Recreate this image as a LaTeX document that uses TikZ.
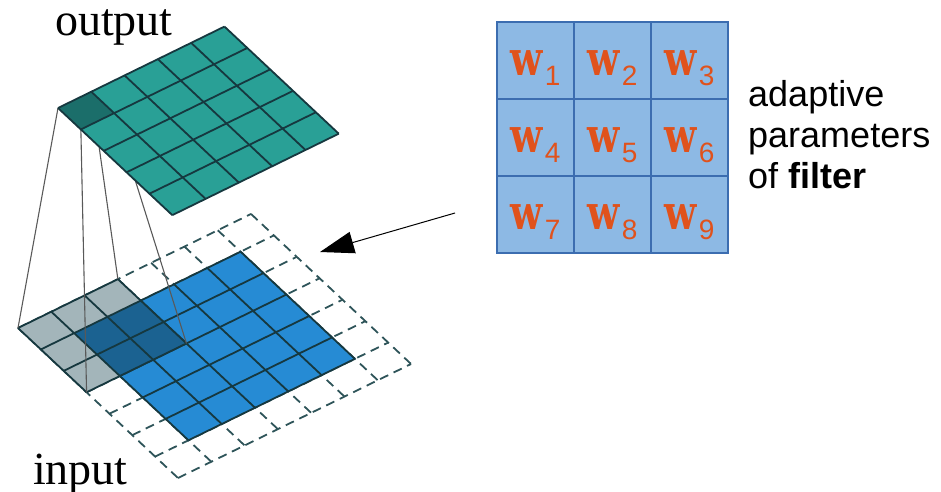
\documentclass[tikz,border=0pt]{standalone}
\usepackage{fontspec}
\setmainfont{Liberation Serif}
\newfontfamily\labelsans{Liberation Sans}
\newfontfamily\wserif{DejaVu Serif}
\usetikzlibrary{arrows.meta}

\definecolor{outteal}{HTML}{29A096}
\definecolor{outdark}{HTML}{1B6E6A}
\definecolor{inblue}{HTML}{268BD4}
\definecolor{inoverlap}{HTML}{1B6291}
\definecolor{kergray}{HTML}{A3B5BA}
\definecolor{gridline}{HTML}{16383F}
\definecolor{padcolor}{HTML}{2E5459}
\definecolor{filterfill}{HTML}{8DB9E4}
\definecolor{filterline}{HTML}{3C6DB0}
\definecolor{wred}{HTML}{E0521C}

% weight label: bold slab w with a sans subscript
\newcommand\wlabel[1]{\scalebox{0.78}[1]{\wserif\bfseries\fontsize{48}{48}\selectfont w}\hspace{2pt}\raisebox{-10pt}{\labelsans\fontsize{28}{28}\selectfont #1}}

\begin{document}
\begin{tikzpicture}[x=1pt,y=-1pt,
  gridstroke/.style={draw=gridline,line width=1.8pt,line join=round},
  padline/.style={draw=padcolor,line width=1.8pt,dash pattern=on 9pt off 6pt},
  linkline/.style={draw=black!65,line width=1.1pt},
  cellfill/.style={draw=filterline,line width=1.2pt,fill=filterfill},
  wnode/.style={text=wred,anchor=base,inner sep=0pt},
  bigtext/.style={font=\labelsans\fontsize{36}{41}\selectfont,align=left,anchor=north west,inner sep=0pt},
  planelabel/.style={font=\fontsize{46}{46}\selectfont,anchor=base west,inner sep=0pt}]
\useasboundingbox (0,0) rectangle (941,491);

% corners of the dark output cell (needed before drawing the links)
\begin{scope}[shift={(58,108)},x={(33.29pt,16.29pt)},y={(22.86pt,-21.43pt)}]
  \coordinate (oL) at (0,0);
  \coordinate (oT) at (1,0);
  \coordinate (oR) at (1,1);
  \coordinate (oB) at (0,1);
\end{scope}

% input plane: padded 7x7 grid, 5x5 input, 3x3 kernel
\begin{scope}[shift={(18,328)},x={(33.29pt,16.29pt)},y={(22.86pt,-21.43pt)}]
  \foreach \k in {0,...,7}{
    \draw[padline] (\k,0) -- (\k,7);
    \draw[padline] (0,\k) -- (7,\k);
  }
  \fill[inblue] (1,1) -- (6,1) -- (6,6) -- (1,6) -- cycle;
  \foreach \k in {1,...,6}{
    \draw[gridstroke] (\k,1) -- (\k,6);
    \draw[gridstroke] (1,\k) -- (6,\k);
  }
  \fill[kergray] (0,0) -- (3,0) -- (3,3) -- (0,3) -- cycle;
  \fill[inoverlap] (1,1) -- (3,1) -- (3,3) -- (1,3) -- cycle;
  \foreach \k in {0,...,3}{
    \draw[gridstroke] (\k,0) -- (\k,3);
    \draw[gridstroke] (0,\k) -- (3,\k);
  }
  \coordinate (kL) at (0,0);
  \coordinate (kT) at (3,0);
  \coordinate (kR) at (3,3);
  \coordinate (kB) at (0,3);
\end{scope}

% receptive field links
\draw[linkline] (oL) -- (kL);
\draw[linkline] (oT) -- (kT);
\draw[linkline] (oR) -- (kR);
\draw[linkline] (oB) -- (kB);

% output plane
\begin{scope}[shift={(58,108)},x={(33.29pt,16.29pt)},y={(22.86pt,-21.43pt)}]
  \fill[outteal] (0,0) -- (5,0) -- (5,5) -- (0,5) -- cycle;
  \fill[outdark] (0,0) -- (1,0) -- (1,1) -- (0,1) -- cycle;
  \foreach \k in {0,...,5}{
    \draw[gridstroke] (\k,0) -- (\k,5);
    \draw[gridstroke] (0,\k) -- (5,\k);
  }
\end{scope}

\node[planelabel] (outlabel) at (55,35) {output};
\node[planelabel] (inlabel) at (33,484) {input};

% filter weights
\foreach \r in {0,1,2}{
  \foreach \c in {0,1,2}{
    \pgfmathtruncatemacro{\idx}{3*\r+\c+1}
    \path[cellfill] (497+77*\c,22+77*\r) rectangle ++(77,77);
    \node[wnode] (w\idx) at (535.5+77*\c,75+77*\r) {\wlabel{\idx}};
  }
}

\node[bigtext] (caption) at (748,80) {adaptive\\parameters\\of \textbf{filter}};

% arrow pointing at the input plane
\coordinate (arrstart) at (455,213);
\coordinate (arrtip) at (320,252);
\draw[line width=1pt,-{Triangle[length=34pt,width=22pt]}] (arrstart) -- (arrtip);
\end{tikzpicture}
\end{document}
